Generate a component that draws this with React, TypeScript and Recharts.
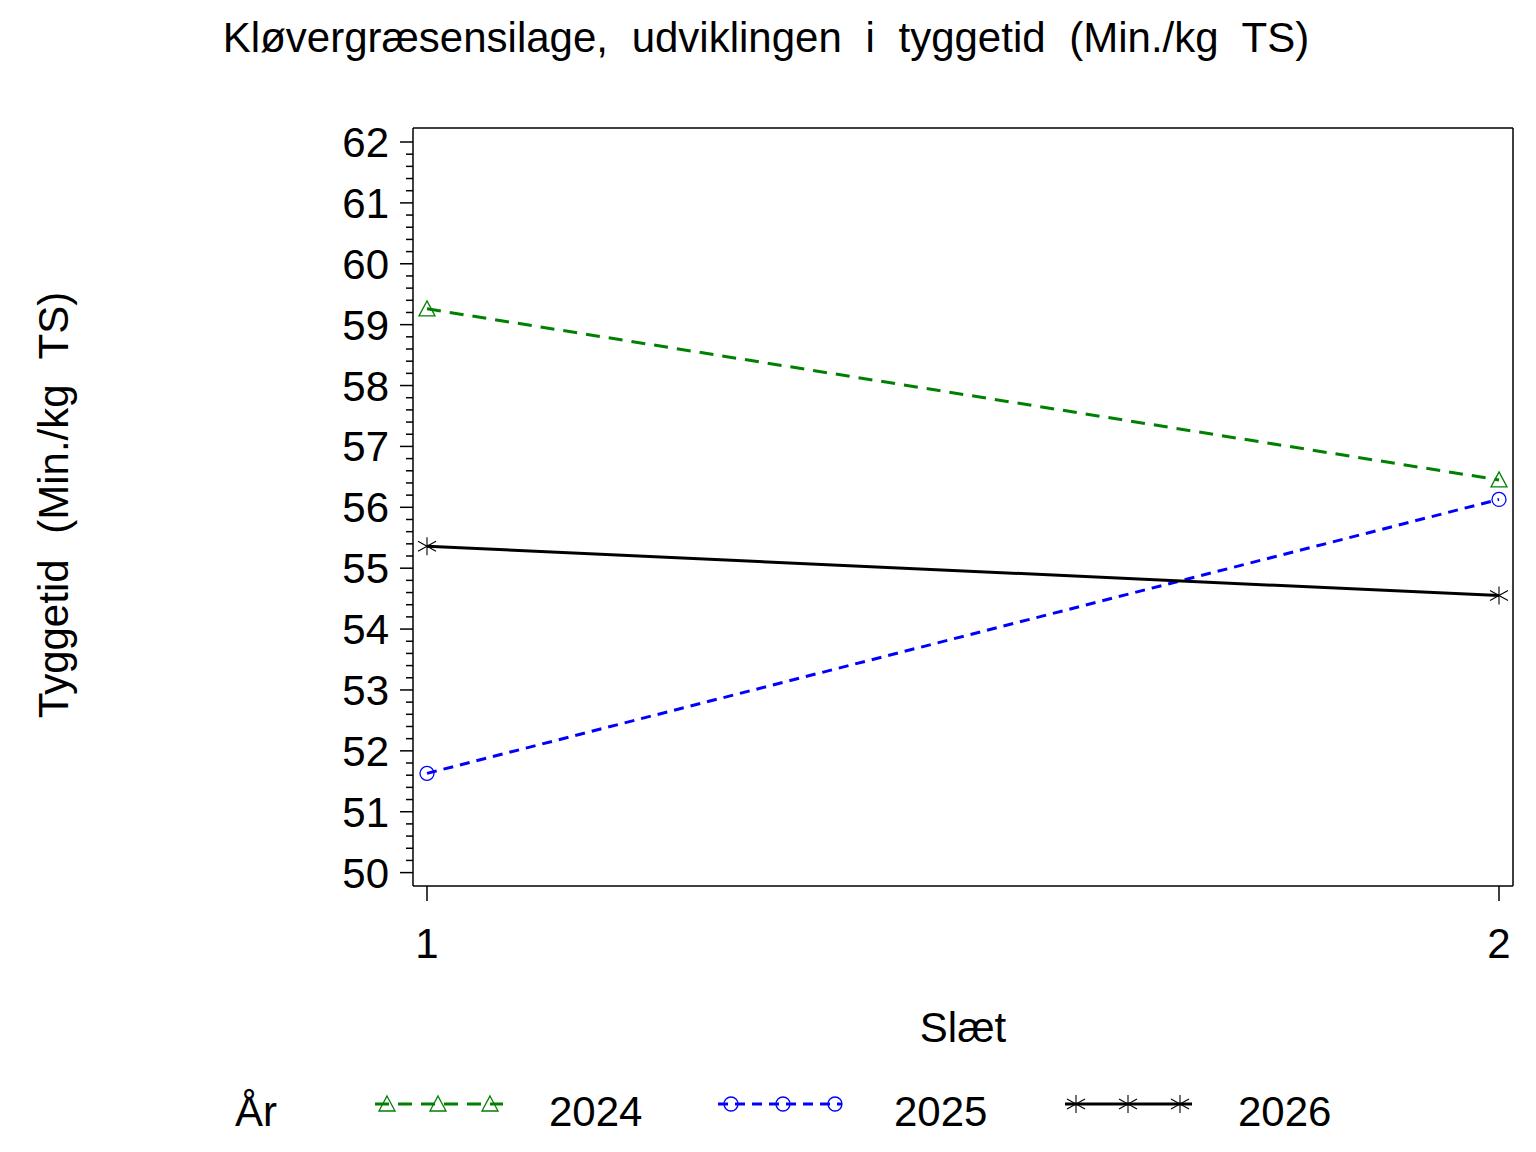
import { LineChart, Line, XAxis, YAxis } from 'recharts';

const slaet = [1, 2];
const aar2024 = [59.26, 56.45];
const aar2025 = [51.63, 56.13];
const aar2026 = [55.36, 54.55];
const yMajor = [50, 51, 52, 53, 54, 55, 56, 57, 58, 59, 60, 61, 62];
// minor ticks every 0.2
const yTicks = Array.from({ length: 61 }, (_, i) => 50 + i / 5);

const data = slaet.map((s, i) => ({ slaet: s, '2024': aar2024[i], '2025': aar2025[i], '2026': aar2026[i] }));

const FONT = '"Liberation Sans", Arial, Helvetica, sans-serif';

const series = [
  { key: '2024', color: '#008000', dash: '14 9', marker: 'triangle' },
  { key: '2025', color: '#0000ff', dash: '10 7', marker: 'circle' },
  { key: '2026', color: '#000000', dash: undefined, marker: 'star' },
];

function Marker({ type, cx, cy, color }: { type: string; cx: number; cy: number; color: string }) {
  if (type === 'triangle') {
    return <polygon points={`${cx},${cy - 8} ${cx + 8},${cy + 7} ${cx - 8},${cy + 7}`} fill="none" stroke={color} strokeWidth={1.3} />;
  }
  if (type === 'circle') {
    return <circle cx={cx} cy={cy} r={7} fill="none" stroke={color} strokeWidth={1.3} />;
  }
  return (
    <g stroke={color} strokeWidth={1.1}>
      <line x1={cx} y1={cy - 9} x2={cx} y2={cy + 9} />
      <line x1={cx - 9} y1={cy - 5} x2={cx + 9} y2={cy + 5} />
      <line x1={cx - 9} y1={cy + 5} x2={cx + 9} y2={cy - 5} />
    </g>
  );
}

const YTick = (props: any) => {
  const { x, y, payload } = props;
  const v = payload.value;
  const major = yMajor.some((m) => Math.abs(v - m) < 1e-6);
  return (
    <g>
      <line x1={x - (major ? 13 : 7)} x2={x} y1={y} y2={y} stroke="#000" strokeWidth={1.5} />
      {major && (
        <text x={x - 24} y={y + 15} textAnchor="end" fontSize={42} fontFamily={FONT} fill="#000">
          {Math.round(v)}
        </text>
      )}
    </g>
  );
};

const XTick = (props: any) => {
  const { x, y, payload } = props;
  return (
    <g>
      <line x1={x} x2={x} y1={y} y2={y + 15} stroke="#000" strokeWidth={1.5} />
      <text x={x} y={y + 72} textAnchor="middle" fontSize={42} fontFamily={FONT} fill="#000">
        {payload.value}
      </text>
    </g>
  );
};

const legendItems = [
  { s: series[0], x1: 375, x2: 503, marks: [387, 438, 490], tx: 549 },
  { s: series[1], x1: 718, x2: 842, marks: [731, 783, 835], tx: 894 },
  { s: series[2], x1: 1065, x2: 1192, marks: [1076, 1128, 1180], tx: 1238 },
];

export default function App() {
  return (
    <div style={{ position: 'relative', width: 1536, height: 1152, background: '#fff' }}>
      <style>{`body{margin:0}`}</style>
      <LineChart width={1536} height={1152} data={data} margin={{ top: 127, right: 22, bottom: 206, left: 333 }}>
        <XAxis
          dataKey="slaet"
          type="number"
          domain={[1, 2]}
          ticks={slaet}
          padding={{ left: 14, right: 14 }}
          height={60}
          tickSize={0}
          tickMargin={0}
          tickLine={false}
          interval={0}
          axisLine={{ stroke: '#000', strokeWidth: 1.5 }}
          tick={<XTick />}
        />
        <XAxis
          xAxisId="top"
          orientation="top"
          dataKey="slaet"
          type="number"
          domain={[1, 2]}
          ticks={[]}
          height={1}
          tick={false}
          tickLine={false}
          axisLine={{ stroke: '#000', strokeWidth: 1.5 }}
        />
        <YAxis
          type="number"
          domain={[49.78, 62.23]}
          allowDataOverflow
          ticks={yTicks}
          width={80}
          tickSize={0}
          tickMargin={0}
          tickLine={false}
          interval={0}
          axisLine={{ stroke: '#000', strokeWidth: 1.5 }}
          tick={<YTick />}
        />
        <YAxis
          yAxisId="right"
          orientation="right"
          type="number"
          domain={[49.78, 62.23]}
          ticks={[]}
          width={1}
          tick={false}
          tickLine={false}
          axisLine={{ stroke: '#000', strokeWidth: 1.5 }}
        />
        {series.map((s) => (
          <Line
            key={s.key}
            dataKey={s.key}
            type="linear"
            stroke={s.color}
            strokeWidth={3}
            strokeDasharray={s.dash}
            isAnimationActive={false}
            dot={(p: any) => <Marker key={`${s.key}-${p.index}`} type={s.marker} cx={p.cx} cy={p.cy} color={s.color} />}
            activeDot={false}
          />
        ))}
      </LineChart>
      <svg width={1536} height={1152} style={{ position: 'absolute', left: 0, top: 0, pointerEvents: 'none' }} fontFamily={FONT}>
        <text x={766} y={52} textAnchor="middle" fontSize={42} wordSpacing={12} fill="#000">
          Kløvergræsensilage, udviklingen i tyggetid (Min./kg TS)
        </text>
        <text x={68} y={505} textAnchor="middle" fontSize={42} wordSpacing={14} fill="#000" transform="rotate(-90 68 505)">
          Tyggetid (Min./kg TS)
        </text>
        <text x={963} y={1042} textAnchor="middle" fontSize={42} fill="#000">
          Slæt
        </text>
        <text x={235} y={1126} fontSize={42} fill="#000">
          År
        </text>
        {legendItems.map((it) => (
          <g key={it.s.key}>
            <line x1={it.x1} x2={it.x2} y1={1104} y2={1104} stroke={it.s.color} strokeWidth={3} strokeDasharray={it.s.dash} />
            {it.marks.map((m) => (
              <Marker key={m} type={it.s.marker} cx={m} cy={1104} color={it.s.color} />
            ))}
            <text x={it.tx} y={1126} fontSize={42} fill="#000">
              {it.s.key}
            </text>
          </g>
        ))}
      </svg>
    </div>
  );
}
